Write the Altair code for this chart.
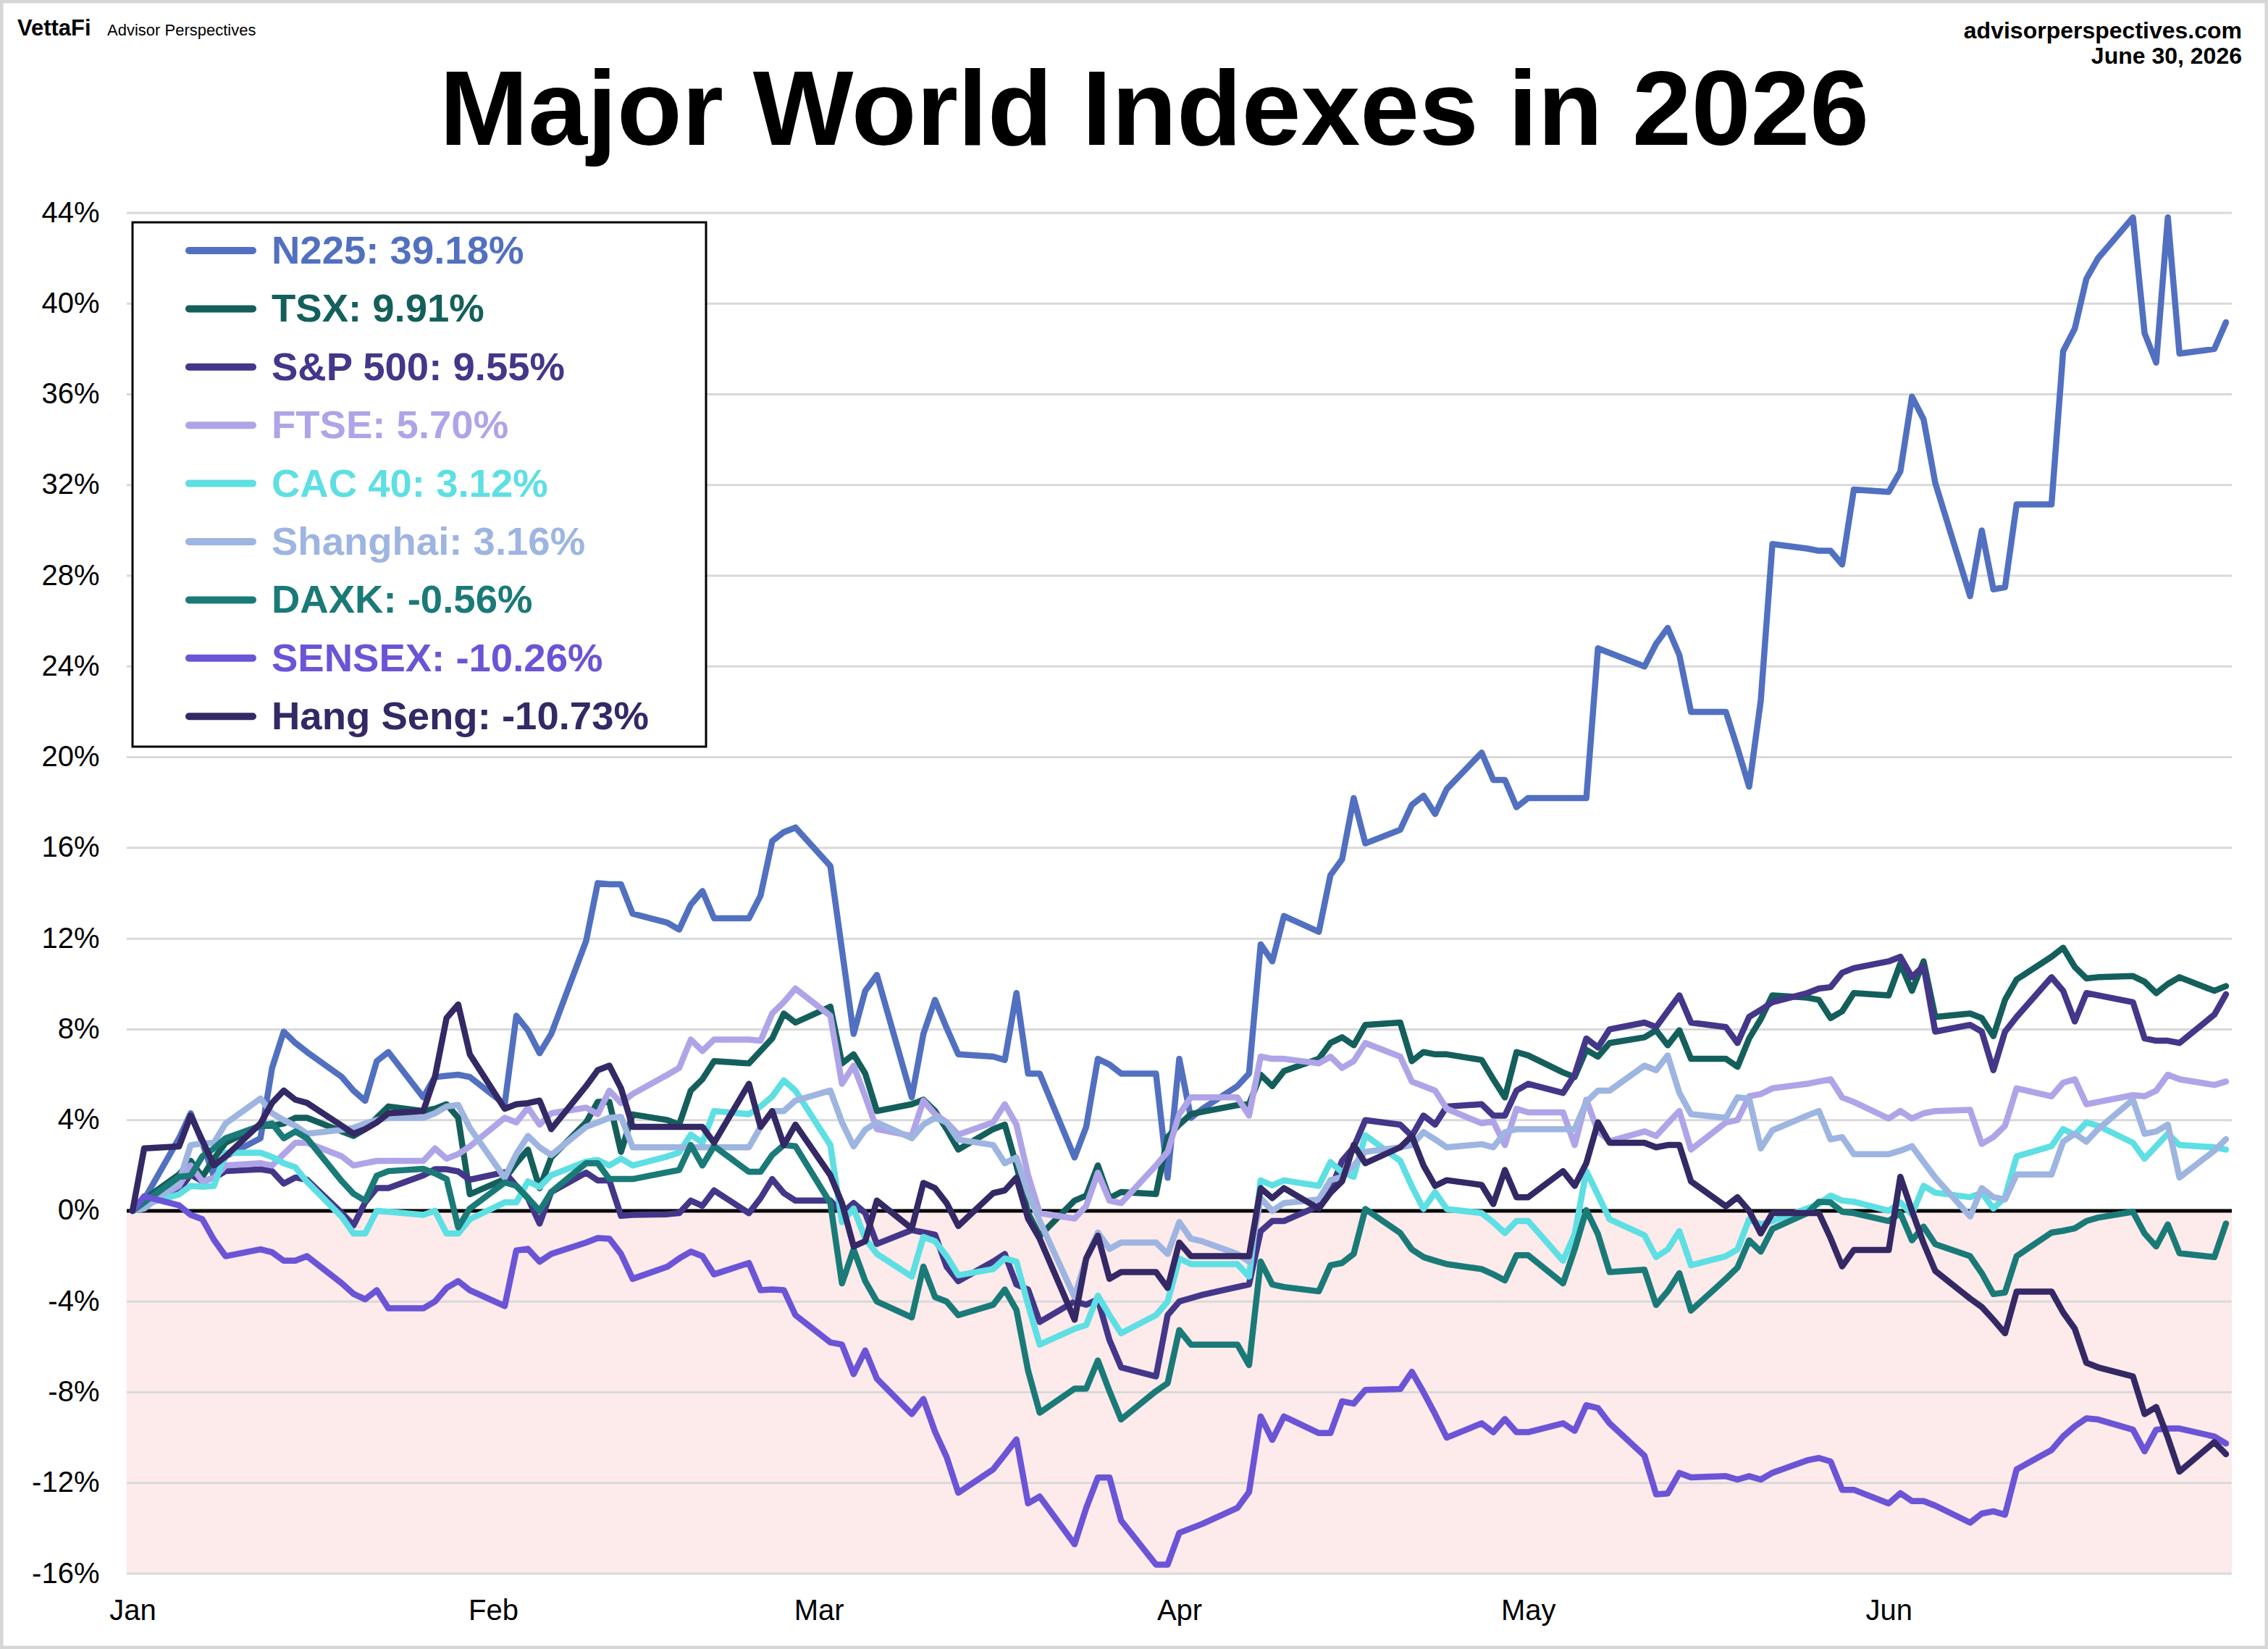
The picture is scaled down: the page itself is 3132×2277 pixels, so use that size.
import altair as alt
import pandas as pd

# ---- trading days (days since Jan 1, 2026) ----
DAYS = [0, 1, 4, 5, 6, 7, 8, 11, 12, 13, 14, 15, 18, 19, 20, 21, 22, 25, 26, 27, 28, 29,
        32, 33, 34, 35, 36, 39, 40, 41, 42, 43, 46, 47, 48, 49, 50, 53, 54, 55, 56, 57,
        60, 61, 62, 63, 64, 67, 68, 69, 70, 71, 74, 75, 76, 77, 78, 81, 82, 83, 84, 85, 88, 89,
        90, 91, 92, 95, 96, 97, 98, 99, 102, 103, 104, 105, 106, 109, 110, 111, 112, 113, 116, 117, 118, 119,
        120, 123, 124, 125, 126, 127, 130, 131, 132, 133, 134, 137, 138, 139, 140, 141, 144, 145, 146, 147, 148,
        151, 152, 153, 154, 155, 158, 159, 160, 161, 162, 165, 166, 167, 168, 169, 172, 173, 174, 175, 176, 179, 180]

N225 = [0, 0.5, 3.2, 4.3, 3.0, 1.5, 2.4, 3.2, 6.3, 7.9, 7.4, 7.0, 5.9, 5.3, 4.85, 6.6, 7.0, 5.0, 5.9, 5.95, 6.0, 5.9,
        4.7, 8.6, 7.95, 6.95, 7.8, 11.9, 14.45, 14.4, 14.4, 13.1, 12.7, 12.4, 13.5, 14.1, 12.9, 12.9, 13.9, 16.3, 16.7, 16.9,
        15.2, 11.5, 7.8, 9.7, 10.4, 5.0, 7.8, 9.3, 8.06, 6.9, 6.8, 6.65, 9.6, 6.05, 6.05, 2.35, 3.7, 6.7, 6.45, 6.05, 6.05, 1.46,
        6.7, 4.1, 4.5, 5.5, 6.05, 11.75, 11.0, 13.0, 12.3, 14.8, 15.5, 18.2, 16.2, 16.8, 17.9, 18.3, 17.5, 18.6, 20.2, 19.0, 19.0, 17.8,
        18.2, 18.2, 18.2, 18.2, 24.8, 24.6, 24.0, 25.0, 25.7, 24.5, 22.0, 22.0, 20.4, 18.7, 22.5, 29.4, 29.2, 29.1, 29.1, 28.5, 31.8,
        31.7, 32.6, 35.9, 34.9, 32.1, 27.1, 30.0, 27.4, 27.5, 31.15, 31.15, 37.9, 38.9, 41.1, 42.0, 43.8, 38.7, 37.4, 43.8, 37.8, 38.0, 39.18]

TSX = [0, 0.5, 1.6, 2.2, 1.5, 2.3, 3.0, 3.75, 3.75, 3.85, 4.1, 4.1, 3.5, 3.3, 3.6, 4.1, 4.6, 4.4, 4.5, 4.7, 4.1, 0.73,
       1.4, 2.1, 2.7, 1.0, 2.35, 3.9, 4.8, 4.8, 2.6, 4.25, 4.0, 3.8, 5.3, 5.8, 6.6, 6.5, 7.05, 7.6, 8.7, 8.3,
       9.0, 6.5, 6.9, 6.05, 4.4, 4.7, 4.9, 4.4, 3.6, 2.7, 3.6, 3.8, 2.0, -0.1, -1.1, 0.45, 0.67, 2.0, 0.56, 0.83, 0.74, 3.25,
       3.8, 4.26, 4.37, 4.66, 4.7, 6.0, 5.5, 6.16, 6.7, 7.4, 7.65, 7.3, 8.2, 8.3, 6.6, 7.0, 6.9, 6.9, 6.65, 5.8, 5.0, 7.0,
       6.85, 6.1, 5.9, 7.1, 6.8, 7.4, 7.65, 7.96, 7.3, 7.96, 6.7, 6.7, 6.35, 7.6, 8.45, 9.5, 9.4, 9.3, 8.5, 8.8, 9.6,
       9.5, 10.9, 9.7, 11.0, 8.55, 8.7, 8.5, 7.7, 9.3, 10.2, 11.2, 11.6, 10.75, 10.25, 10.3, 10.35, 10.1, 9.6, 10.0, 10.3, 9.7, 9.91]

SP500 = [0, 0.37, 0.9, 1.6, 1.3, 1.45, 1.75, 1.83, 1.75, 1.2, 1.47, 1.37, -0.1, -0.64, 0.37, 1.0, 1.0, 1.56, 1.83, 1.83, 1.74, 1.37,
         1.7, 1.1, 0.56, -0.56, 0.83, 1.68, 1.34, 1.34, -0.22, -0.18, -0.15, -0.1, 0.45, 0.22, 0.9, -0.1, 0.56, 1.4, 0.78, 0.45,
         0.45, -0.1, 0.34, -0.1, -1.46, -0.85, -0.95, -1.05, -2.46, -3.1, -2.24, -1.9, -3.25, -3.47, -4.9, -4.0, -4.14, -3.9, -5.7, -6.9, -7.3, -4.6,
         -4.0, -3.85, -3.7, -3.36, -3.25, -0.9, -0.45, -0.45, 0.22, 0.9, 2.2, 2.8, 4.0, 3.8, 3.3, 4.2, 3.8, 4.6, 4.7, 4.2, 4.2, 5.3,
         5.6, 5.2, 6.0, 7.6, 7.2, 8.0, 8.3, 8.1, 8.8, 9.5, 8.3, 8.1, 7.4, 8.55, 8.86, 9.2, 9.6, 9.8, 9.86, 10.5, 10.7,
         11.0, 11.2, 10.3, 10.8, 7.9, 8.2, 7.9, 6.2, 7.9, 8.55, 10.3, 9.7, 8.35, 9.6, 9.5, 9.2, 7.6, 7.5, 7.5, 7.4, 8.65, 9.55]

FTSE = [0, 0.27, 1.1, 2.0, 1.3, 1.45, 2.0, 2.1, 2.0, 2.5, 3.0, 3.0, 2.4, 2.0, 2.1, 2.2, 2.2, 2.2, 2.75, 2.3, 2.5, 2.84,
        4.1, 3.9, 4.55, 3.8, 4.3, 4.55, 4.26, 5.3, 4.75, 5.15, 6.0, 6.3, 7.55, 7.05, 7.55, 7.55, 7.5, 8.7, 9.2, 9.8,
        8.6, 5.6, 6.4, 5.04, 3.6, 3.3, 4.86, 4.26, 3.9, 3.36, 3.9, 4.7, 3.8, 1.57, -0.1, -0.34, 0.22, 1.68, 0.45, 0.34, 2.0, 2.6,
        4.26, 5.0, 5.0, 5.0, 4.2, 6.8, 6.7, 6.7, 6.5, 6.8, 6.3, 6.6, 7.4, 6.8, 5.7, 5.5, 5.3, 4.5, 3.86, 3.94, 2.9, 4.5,
        4.34, 4.34, 2.9, 4.9, 3.5, 3.07, 3.5, 3.3, 3.86, 4.4, 2.7, 3.9, 4.0, 5.05, 5.15, 5.4, 5.6, 5.7, 5.8, 5.0, 4.8,
        4.07, 4.4, 4.07, 4.3, 4.4, 4.45, 2.95, 3.25, 3.75, 5.4, 5.05, 5.65, 5.8, 4.7, 4.8, 5.1, 5.05, 5.3, 6.0, 5.8, 5.55, 5.70]

CAC40 = [0, 0.27, 0.73, 1.1, 1.06, 1.1, 2.56, 2.56, 2.38, 2.1, 1.92, 1.28, -0.27, -1.0, -1.0, 0.0, -0.04, -0.18, 0.0, -1.0, -1.0, -0.37,
         0.37, 0.37, 1.3, 1.05, 1.57, 2.17, 2.24, 2.0, 2.3, 2.0, 2.4, 2.57, 3.36, 3.0, 4.4, 4.26, 4.6, 5.04, 5.75, 5.3,
         2.9, -0.5, 0.1, -1.23, -1.9, -2.9, -1.15, -1.34, -2.0, -2.84, -2.57, -2.1, -2.24, -4.14, -5.9, -5.2, -5.04, -3.74, -4.6, -5.4, -4.6, -4.0,
         -2.1, -2.35, -2.35, -2.35, -2.9, 1.34, 1.12, 1.34, 1.1, 2.15, 1.7, 1.5, 3.33, 2.2, 1.08, 0.08, 0.82, 0.08, -0.1, -0.5, -0.98, -0.45,
         -0.45, -2.2, -1.03, 1.75, 0.7, -0.37, -1.08, -2.04, -1.7, -0.9, -2.4, -2.0, -1.7, -0.37, -0.6, -0.45, 0.1, 0.3, 0.67, 0.45, 0.4,
         0.0, 0.37, -0.16, 1.1, 0.8, 0.6, 0.8, 0.1, 0.6, 2.4, 2.85, 3.6, 3.35, 3.9, 3.75, 3.0, 2.3, 2.85, 3.4, 2.9, 2.8, 2.7]

SHANGHAI = [0, 0.1, 1.28, 2.9, 2.97, 3.0, 3.85, 4.95, 4.3, 4.0, 3.75, 3.4, 3.57, 3.66, 3.85, 4.0, 4.1, 4.1, 4.3, 4.6, 4.67, 3.66,
            1.46, 2.5, 3.3, 2.8, 2.46, 3.7, 3.9, 4.1, 4.14, 2.8, 2.8, 2.8, 2.8, 2.8, 2.8, 2.8, 3.7, 4.4, 4.4, 4.86,
            5.3, 3.9, 2.84, 3.58, 3.9, 3.2, 3.8, 4.1, 3.9, 3.14, 2.9, 2.1, 2.35, 0.78, -0.45, -3.8, -2.1, -0.96, -1.68, -1.4, -1.4, -1.9,
            -0.5, -1.23, -1.35, -1.9, -2.24, 0.56, 0.0, 0.34, 0.5, 1.35, 1.5, 2.0, 2.6, 2.8, 2.9, 3.47, 3.15, 2.8, 2.94, 2.8, 3.47, 3.6,
            3.6, 3.6, 3.6, 4.8, 5.3, 5.3, 6.4, 6.2, 6.85, 5.2, 4.26, 4.1, 5.0, 4.95, 2.75, 3.55, 4.2, 4.4, 3.15, 3.25, 2.5,
            2.5, 2.65, 2.85, 2.15, 1.47, -0.25, 1.0, 0.6, 0.5, 1.6, 1.6, 3.05, 3.4, 3.05, 3.6, 4.9, 3.4, 3.5, 3.8, 1.47, 2.65, 3.16]

DAXK = [0, 0.37, 1.5, 1.55, 2.4, 2.75, 3.2, 3.75, 3.85, 3.2, 3.5, 3.2, 1.3, 0.75, 0.45, 1.55, 1.75, 1.85, 1.65, 1.4, -0.73, 0.1,
        1.25, 1.1, 0.56, 0.0, 0.83, 2.1, 2.1, 1.4, 1.4, 1.4, 1.7, 1.8, 2.9, 2.0, 2.85, 1.72, 1.72, 2.46, 2.9, 2.85,
        0.34, -3.2, -1.7, -3.1, -4.0, -4.7, -2.46, -3.8, -4.0, -4.6, -4.14, -3.47, -4.37, -7.05, -8.9, -7.84, -7.84, -6.6, -7.95, -9.2, -7.95, -7.6,
        -5.26, -5.9, -5.9, -5.9, -6.8, -2.24, -3.25, -3.36, -3.55, -2.4, -2.3, -1.9, 0.08, -0.98, -1.7, -2.04, -2.2, -2.35, -2.57, -2.8, -3.07, -1.96,
        -1.96, -3.2, -1.7, 0.03, -1.03, -2.7, -2.6, -4.15, -3.55, -2.75, -4.4, -3.0, -2.5, -1.3, -1.8, -0.8, -0.1, 0.4, 0.37, -0.04, -0.1,
        -0.45, -0.1, -1.3, -0.7, -1.47, -2.0, -2.75, -3.67, -3.6, -2.0, -0.96, -0.88, -0.77, -0.45, -0.3, -0.04, -1.0, -1.57, -0.6, -1.87, -2.04, -0.56]

SENSEX = [0, 0.64, 0.24, -0.18, -0.37, -1.28, -2.0, -1.7, -1.83, -2.2, -2.2, -2.0, -3.2, -3.66, -3.9, -3.5, -4.3, -4.3, -4.0, -3.4, -3.1, -3.5,
          -4.2, -1.75, -1.68, -2.24, -1.9, -1.4, -1.2, -1.23, -1.9, -3.0, -2.46, -2.1, -1.8, -2.0, -2.8, -2.3, -3.5, -3.47, -3.5, -4.6,
          -5.8, -5.9, -7.2, -6.16, -7.4, -8.96, -8.3, -9.74, -10.86, -12.43, -11.4, -10.75, -10.08, -12.9, -12.6, -14.7, -13.1, -11.76, -11.76, -13.66, -15.6, -15.6,
          -14.2, -14.0, -13.8, -13.1, -12.4, -9.07, -10.1, -9.07, -9.8, -9.8, -8.4, -8.5, -7.9, -7.86, -7.1, -8.0, -8.97, -10.0, -9.37, -9.76, -9.18, -9.76,
          -9.76, -9.37, -9.7, -8.57, -8.7, -9.37, -10.8, -12.5, -12.46, -11.56, -11.75, -11.7, -11.85, -11.7, -11.85, -11.55, -11.0, -10.9, -11.05, -12.3, -12.3,
          -12.9, -12.45, -12.8, -12.8, -13.0, -13.75, -13.35, -13.25, -13.4, -11.4, -10.55, -9.95, -9.5, -9.15, -9.2, -9.65, -10.6, -9.65, -9.6, -9.6, -9.95, -10.26]

HANGSENG = [0, 2.75, 2.84, 4.2, 3.1, 2.0, 2.4, 3.85, 4.76, 5.3, 4.9, 4.76, 3.75, 3.4, 3.6, 3.9, 4.3, 4.4, 5.9, 8.5, 9.1, 6.9,
            4.5, 4.7, 4.75, 4.86, 3.6, 5.5, 6.2, 6.4, 5.4, 3.7, 3.7, 3.7, 3.7, 3.7, 3.0, 5.6, 3.7, 4.4, 2.9, 3.8,
            1.57, 0.34, -1.57, -1.34, 0.45, -0.78, 1.23, 1.0, 0.34, -0.67, 0.78, 0.9, 1.46, -0.34, -1.23, -4.8, -2.1, -1.1, -3.0, -2.7, -2.7, -3.4,
            -1.4, -2.0, -2.0, -2.0, -2.0, 1.0, 0.56, 1.0, 0.1, 0.8, 1.3, 2.9, 2.1, 2.8, 3.3, 2.0, 1.1, 1.35, 1.14, 0.3, 1.8, 0.6,
            0.6, 1.75, 1.1, 2.1, 3.9, 3.0, 3.0, 2.8, 2.9, 2.9, 1.3, 0.2, 0.6, 0.0, -1.0, -0.1, -0.1, -0.1, -1.2, -2.45, -1.73,
            -1.73, 1.5, 0.0, -1.43, -2.65, -3.87, -4.24, -4.8, -5.4, -3.56, -3.56, -4.48, -5.2, -6.7, -6.9, -7.3, -8.96, -8.65, -10.0, -11.5, -10.2, -10.73]

NAMES = ["N225", "TSX", "S&P 500", "FTSE", "CAC 40", "Shanghai", "DAXK", "SENSEX", "Hang Seng"]
SERIES = [N225, TSX, SP500, FTSE, CAC40, SHANGHAI, DAXK, SENSEX, HANGSENG]
LEGEND_PCT = [39.18, 9.91, 9.55, 5.70, 3.12, 3.16, -0.56, -10.26, -10.73]
COLORS = ["#5270c0", "#145f5c", "#443689", "#b0a4e8", "#5ddfe3", "#9db5e0", "#1a7a78", "#6b54d6", "#342865"]

MONTH_DAYS = [0, 31, 59, 90, 120, 151]
MONTHS = ["Jan", "Feb", "Mar", "Apr", "May", "Jun"]
Y_TICKS = list(range(-16, 45, 4))

# ---- layout ----
W, H = 2907, 1879
PAD_L, PAD_T, PAD_R, PAD_B = 175, 294, 50, 104
FONT = "Liberation Sans"

xscale = alt.Scale(domain=[-0.5, 180.5], nice=False, zero=False)
yscale = alt.Scale(domain=[-16, 44], nice=False, zero=False)

month_expr = ""
for d, m in zip(MONTH_DAYS, MONTHS):
    month_expr += f"datum.value == {d} ? '{m}' : "
month_expr += "''"

xaxis = alt.Axis(values=MONTH_DAYS, labelExpr=month_expr, title=None, grid=False, ticks=False,
                 domain=False, labelFontSize=40, labelFont=FONT, labelColor="#000000",
                 labelPadding=31, labelFlush=False, labelOverlap=False)
yaxis = alt.Axis(values=Y_TICKS, labelExpr="datum.value + '%'", title=None, grid=False, ticks=False,
                 domain=False, labelFontSize=40, labelFont=FONT, labelColor="#000000",
                 labelPadding=38, labelOverlap=False)

one = pd.DataFrame({"k": [0]})
layers = []

# pink negative band
band = pd.DataFrame({"top": [0], "bottom": [-16]})
layers.append(alt.Chart(band).mark_rect(color="#fdeaea").encode(
    x=alt.value(0), x2=alt.value(W),
    y=alt.Y("top:Q", scale=yscale, axis=yaxis), y2="bottom:Q"))

# gridlines
grid = pd.DataFrame({"v": Y_TICKS})
layers.append(alt.Chart(grid).mark_rule(color="#d9d9d9", strokeWidth=3).encode(
    x=alt.value(0), x2=alt.value(W), y=alt.Y("v:Q", scale=yscale, axis=yaxis)))

# zero line
zero = pd.DataFrame({"z": [0]})
layers.append(alt.Chart(zero).mark_rule(color="#000000", strokeWidth=5).encode(
    x=alt.value(0), x2=alt.value(W), y=alt.Y("z:Q", scale=yscale, axis=yaxis)))

# series lines (first drawn at bottom)
for name, vals, col in zip(NAMES, SERIES, COLORS):
    df = pd.DataFrame({"day": DAYS, "value": vals})
    layers.append(alt.Chart(df).mark_line(color=col, strokeWidth=8.5, strokeJoin="round",
                                          strokeCap="round").encode(
        x=alt.X("day:Q", scale=xscale, axis=xaxis),
        y=alt.Y("value:Q", scale=yscale, axis=yaxis)))

# legend box
layers.append(alt.Chart(one).mark_rect(fill="white", stroke="black", strokeWidth=3).encode(
    x=alt.value(8), x2=alt.value(800), y=alt.value(13), y2=alt.value(737)))

for i, (name, pct, col) in enumerate(zip(NAMES, LEGEND_PCT, COLORS)):
    yy = 52 + i * 80.4
    layers.append(alt.Chart(one).mark_rule(color=col, strokeWidth=10, strokeCap="round").encode(
        x=alt.value(86), x2=alt.value(174), y=alt.value(yy)))
    layers.append(alt.Chart(one).mark_text(text=f"{name}: {pct:.2f}%", align="left", baseline="middle",
                                           font=FONT, fontSize=54.5, fontWeight="bold", color=col).encode(
        x=alt.value(200), y=alt.value(yy + 2)))

# header texts
layers.append(alt.Chart(one).mark_text(text="Major World Indexes in 2026", align="center",
                                       baseline="alphabetic", font=FONT, fontSize=147,
                                       fontWeight="bold", color="#000000").encode(
    x=alt.value(1594 - PAD_L), y=alt.value(200 - PAD_T)))
layers.append(alt.Chart(one).mark_text(text="VettaFi", align="left", baseline="alphabetic",
                                       font=FONT, fontSize=31, fontWeight="bold", color="#000000").encode(
    x=alt.value(24 - PAD_L), y=alt.value(49 - PAD_T)))
layers.append(alt.Chart(one).mark_text(text="Advisor Perspectives", align="left", baseline="alphabetic",
                                       font=FONT, fontSize=22, color="#000000").encode(
    x=alt.value(148 - PAD_L), y=alt.value(49 - PAD_T)))
layers.append(alt.Chart(one).mark_text(text="advisorperspectives.com", align="right", baseline="alphabetic",
                                       font=FONT, fontSize=32, fontWeight="bold", color="#000000").encode(
    x=alt.value(3096 - PAD_L), y=alt.value(53 - PAD_T)))
layers.append(alt.Chart(one).mark_text(text="June 30, 2026", align="right", baseline="alphabetic",
                                       font=FONT, fontSize=32, fontWeight="bold", color="#000000").encode(
    x=alt.value(3096 - PAD_L), y=alt.value(88 - PAD_T)))

# outer frame
layers.append(alt.Chart(one).mark_rect(filled=False, stroke="#d6d6d6", strokeWidth=5).encode(
    x=alt.value(-PAD_L + 2), x2=alt.value(W + PAD_R - 2),
    y=alt.value(-PAD_T + 2), y2=alt.value(H + PAD_B - 2)))

chart = alt.layer(*layers).properties(
    width=W, height=H,
    autosize=alt.AutoSizeParams(type="none"),
    padding={"left": PAD_L, "top": PAD_T, "right": PAD_R, "bottom": PAD_B},
    background="white",
).configure_view(stroke=None)

chart.save("out.html", embed_options={"renderer": "svg", "actions": False})
